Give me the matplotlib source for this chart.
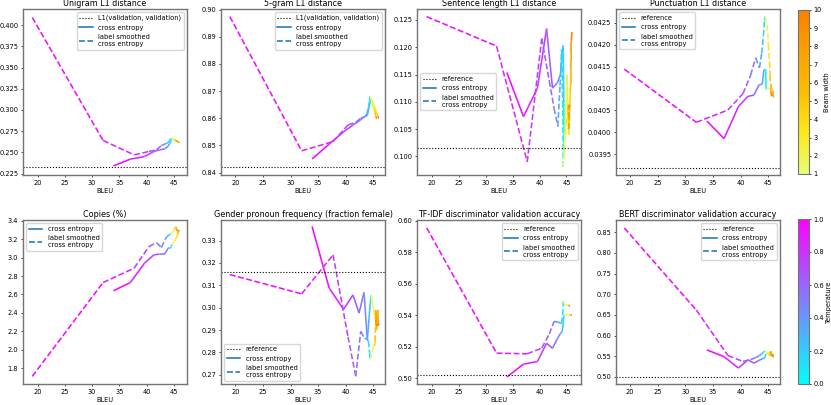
import numpy as np
import matplotlib
matplotlib.use('Agg')
import matplotlib.pyplot as plt
from matplotlib.collections import LineCollection
from matplotlib.lines import Line2D
from matplotlib.colors import Normalize
from matplotlib.cm import ScalarMappable

# the original looks like a big default-style figure shrunk to ~0.48
plt.rcParams['font.size'] = 4.8
plt.rcParams['xtick.major.size'] = 1.7
plt.rcParams['ytick.major.size'] = 1.7
plt.rcParams['xtick.major.width'] = 0.5
plt.rcParams['ytick.major.width'] = 0.5
plt.rcParams['xtick.major.pad'] = 1.7
plt.rcParams['ytick.major.pad'] = 1.7

# sweep settings
temps = [1.0, 0.9, 0.8, 0.7, 0.6, 0.5, 0.4, 0.3, 0.2, 0.1, 0.0]
beams = [1, 2, 3, 4, 5, 6, 7, 8, 9, 10]

# BLEU along the sweeps
ce_bleu_t = [33.9, 37.0, 39.6, 41.3, 42.4, 43.3, 43.9, 44.2, 44.4, 44.5, 44.6]
ls_bleu_t = [19.0, 32.0, 37.7, 40.4, 41.8, 42.7, 43.4, 43.8, 44.1, 44.3, 44.4]
ce_bleu_b = [44.6, 45.1, 45.4, 45.6, 45.7, 45.8, 45.8, 45.9, 45.9, 46.0]
ls_bleu_b = [44.4, 44.8, 45.0, 45.2, 45.3, 45.4, 45.4, 45.5, 45.5, 45.6]

titles = ['Unigram L1 distance', '5-gram L1 distance', 'Sentence length L1 distance',
          'Punctuation L1 distance', 'Copies (%)', 'Gender pronoun frequency (fraction female)',
          'TF-IDF discriminator validation accuracy', 'BERT discriminator validation accuracy']
ref_labels = ['L1(validation, validation)', 'L1(validation, validation)', 'reference', 'reference',
              None, 'reference', 'reference', 'reference']
references = [0.233, 0.842, 0.1015, 0.03919, None, 0.316, 0.5021, 0.5006]

# unigram
uni_ce_t = [0.234, 0.242, 0.245, 0.251, 0.253, 0.254, 0.257, 0.260, 0.262, 0.264, 0.266]
uni_ls_t = [0.409, 0.264, 0.247, 0.251, 0.253, 0.258, 0.260, 0.261, 0.263, 0.265, 0.267]
uni_ce_b = [0.266, 0.265, 0.264, 0.263, 0.263, 0.262, 0.262, 0.262, 0.261, 0.261]
uni_ls_b = [0.267, 0.266, 0.265, 0.264, 0.264, 0.263, 0.263, 0.263, 0.262, 0.262]

# 5-gram
five_ce_t = [0.845, 0.8505, 0.855, 0.8575, 0.859, 0.8605, 0.861, 0.864, 0.866, 0.867, 0.867]
five_ls_t = [0.8974, 0.848, 0.8514, 0.8575, 0.8585, 0.8600, 0.8605, 0.8615, 0.8640, 0.8665, 0.868]
five_ce_b = [0.867, 0.865, 0.863, 0.862, 0.861, 0.861, 0.860, 0.860, 0.860, 0.860]
five_ls_b = [0.868, 0.866, 0.864, 0.863, 0.862, 0.861, 0.861, 0.861, 0.860, 0.860]

# sentence length
len_ce_t = [0.1154, 0.1073, 0.1125, 0.1234, 0.1125, 0.1135, 0.1150, 0.1190, 0.1203, 0.1100, 0.1005]
len_ls_t = [0.1256, 0.1202, 0.0990, 0.1216, 0.1138, 0.1088, 0.1055, 0.1130, 0.1196, 0.1100, 0.0980]
len_ce_b = [0.1005, 0.1150, 0.1040, 0.1080, 0.1120, 0.1135, 0.1165, 0.1190, 0.1210, 0.1228]
len_ls_b = [0.0980, 0.1040, 0.1060, 0.1080, 0.1095, 0.1060, 0.1050, 0.1070, 0.1090, 0.1095]

# punctuation
pun_ce_t = [0.04026, 0.03986, 0.04059, 0.04082, 0.04085, 0.04108, 0.04110, 0.04143, 0.04143, 0.04143, 0.04098]
pun_ls_t = [0.04144, 0.04023, 0.04051, 0.04088, 0.04130, 0.04170, 0.04147, 0.04180, 0.04220, 0.04255, 0.04264]
pun_ce_b = [0.04098, 0.04100, 0.04100, 0.04100, 0.04098, 0.04095, 0.04090, 0.04085, 0.04082, 0.04080]
pun_ls_b = [0.04264, 0.04245, 0.04200, 0.04160, 0.04130, 0.04110, 0.04100, 0.04095, 0.04090, 0.04082]

# copies
cop_ce_t = [2.64, 2.73, 2.94, 3.03, 3.04, 3.04, 3.10, 3.11, 3.11, 3.12, 3.14]
cop_ls_t = [1.709, 2.730, 2.886, 3.120, 3.165, 3.110, 3.200, 3.235, 3.245, 3.255, 3.262]
cop_ce_b = [3.14, 3.18, 3.21, 3.24, 3.26, 3.28, 3.29, 3.30, 3.30, 3.29]
cop_ls_b = [3.262, 3.280, 3.300, 3.320, 3.335, 3.330, 3.320, 3.310, 3.300, 3.290]

# gender
gen_ce_t = [0.3363, 0.3087, 0.2993, 0.3057, 0.2976, 0.3068, 0.2857, 0.2950, 0.3013, 0.3030, 0.3057]
gen_ls_t = [0.3148, 0.3062, 0.3236, 0.2870, 0.2693, 0.2894, 0.2864, 0.2860, 0.2850, 0.2800, 0.2767]
gen_ce_b = [0.3057, 0.2980, 0.2940, 0.2900, 0.2960, 0.2990, 0.2970, 0.2930, 0.2920, 0.2930]
gen_ls_b = [0.2767, 0.2800, 0.2834, 0.2830, 0.2850, 0.2920, 0.2990, 0.2960, 0.2930, 0.2915]

# tf-idf
tfi_ce_t = [0.5006, 0.5088, 0.5105, 0.5221, 0.5189, 0.5250, 0.5284, 0.5295, 0.5347, 0.5390, 0.5400]
tfi_ls_t = [0.5954, 0.5158, 0.5154, 0.5190, 0.5280, 0.5360, 0.5355, 0.5350, 0.5347, 0.5400, 0.5490]
tfi_ce_b = [0.5400, 0.5405, 0.5400, 0.5398, 0.5400, 0.5402, 0.5400, 0.5398, 0.5400, 0.5400]
tfi_ls_b = [0.5490, 0.5460, 0.5463, 0.5465, 0.5465, 0.5463, 0.5462, 0.5462, 0.5460, 0.5460]

# bert
brt_ce_t = [0.5655, 0.5490, 0.5215, 0.5415, 0.5335, 0.5400, 0.5440, 0.5455, 0.5470, 0.5530, 0.5560]
brt_ls_t = [0.8604, 0.6617, 0.5520, 0.5375, 0.5420, 0.5470, 0.5520, 0.5560, 0.5600, 0.5620, 0.5630]
brt_ce_b = [0.5560, 0.5600, 0.5580, 0.5540, 0.5500, 0.5530, 0.5560, 0.5520, 0.5490, 0.5480]
brt_ls_b = [0.5630, 0.5600, 0.5560, 0.5520, 0.5560, 0.5600, 0.5620, 0.5580, 0.5540, 0.5500]

panels = [
    (uni_ce_t, uni_ls_t, uni_ce_b, uni_ls_b),
    (five_ce_t, five_ls_t, five_ce_b, five_ls_b),
    (len_ce_t, len_ls_t, len_ce_b, len_ls_b),
    (pun_ce_t, pun_ls_t, pun_ce_b, pun_ls_b),
    (cop_ce_t, cop_ls_t, cop_ce_b, cop_ls_b),
    (gen_ce_t, gen_ls_t, gen_ce_b, gen_ls_b),
    (tfi_ce_t, tfi_ls_t, tfi_ce_b, tfi_ls_b),
    (brt_ce_t, brt_ls_t, brt_ce_b, brt_ls_b),
]

ylims = [(0.2233, 0.419), (0.8391, 0.9002), (0.0966, 0.127), (0.03903, 0.04281),
         (1.626, 3.41), (0.2659, 0.3392), (0.4962, 0.6004), (0.483, 0.8796)]
xlims = [(17.3, 47.4), (17.4, 47.1), (17.2, 47.7), (17.5, 47.1)]
legend_locs = ['upper right', 'upper right', 'center left', 'upper left',
               'upper left', 'lower left', 'upper right', 'upper right']

temp_cmap = plt.get_cmap('cool')
temp_norm = Normalize(0, 1)
beam_cmap = plt.get_cmap('Wistia')
beam_norm = Normalize(1, 10)

W, H = 831, 405
fig = plt.figure(figsize=(W / 100, H / 100), dpi=100)
lefts = [23, 221, 417, 616]
rows = [(9, 175), (220, 384)]


def colored_line(ax, x, y, c, cmap, norm, ls):
    pts = np.column_stack([x, y]).reshape(-1, 1, 2)
    segs = np.concatenate([pts[:-1], pts[1:]], axis=1)
    c = np.asarray(c, dtype=float)
    lc = LineCollection(segs, cmap=cmap, norm=norm, linestyles=ls, linewidths=1.15)
    lc.set_array((c[:-1] + c[1:]) / 2)
    ax.add_collection(lc)


for i in range(8):
    r, col = divmod(i, 4)
    top, bot = rows[r]
    ax = fig.add_axes([lefts[col] / W, 1 - bot / H, 164 / W, (bot - top) / H])
    ce_t, ls_t, ce_b, ls_b = panels[i]

    colored_line(ax, ce_bleu_t, ce_t, temps, temp_cmap, temp_norm, 'solid')
    colored_line(ax, ls_bleu_t, ls_t, temps, temp_cmap, temp_norm, 'dashed')
    colored_line(ax, ce_bleu_b, ce_b, beams, beam_cmap, beam_norm, 'solid')
    colored_line(ax, ls_bleu_b, ls_b, beams, beam_cmap, beam_norm, 'dashed')

    handles = []
    if references[i] is not None:
        ax.axhline(references[i], color='k', ls=':', lw=0.8)
        handles.append(Line2D([], [], color='k', ls=':', lw=0.8, label=ref_labels[i]))
    handles.append(Line2D([], [], color='C0', ls='-', lw=1.15, label='cross entropy'))
    handles.append(Line2D([], [], color='C0', ls='--', lw=1.15, label='label smoothed\ncross entropy'))
    ax.legend(handles=handles, loc=legend_locs[i], fontsize=4.8)

    ax.set_xlim(xlims[col])
    ax.set_ylim(ylims[i])
    ax.set_xticks([20, 25, 30, 35, 40, 45])
    ax.set_title(titles[i], fontsize=5.8, pad=2.5)
    ax.set_xlabel('BLEU', labelpad=1.9)
    for s in ax.spines.values():
        s.set_color('0.45')
        s.set_linewidth(1.0)

cax1 = fig.add_axes([798 / W, 1 - 174 / H, 11 / W, 164 / H])
cb1 = fig.colorbar(ScalarMappable(norm=beam_norm, cmap=beam_cmap), cax=cax1, ticks=beams)
cb1.set_label('Beam width', labelpad=1.5)
cax2 = fig.add_axes([798 / W, 1 - 384 / H, 11 / W, 165 / H])
cb2 = fig.colorbar(ScalarMappable(norm=temp_norm, cmap=temp_cmap), cax=cax2,
                   ticks=[0.0, 0.2, 0.4, 0.6, 0.8, 1.0])
cb2.set_label('Temperature', labelpad=1.5)
for cb in (cb1, cb2):
    cb.outline.set_edgecolor('0.45')

fig.savefig('out.png', dpi=100)
